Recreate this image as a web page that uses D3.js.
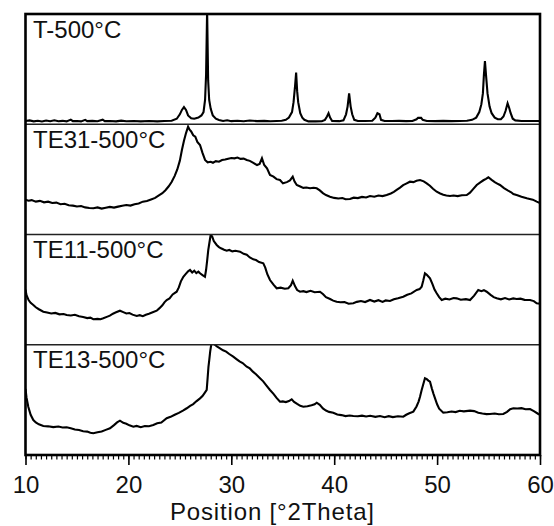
<!DOCTYPE html>
<html>
<head>
<meta charset="utf-8">
<script src="https://cdn.jsdelivr.net/npm/d3@7/dist/d3.min.js"></script>
<style>
  html, body { margin: 0; padding: 0; background: #fff; }
  svg { display: block; }
  text { font-family: "Liberation Sans", Arial, sans-serif; fill: #111; }
</style>
</head>
<body>
<div id="chart"></div>
<script>
// Stacked XRD patterns, relative intensity (0 = panel floor, 100 = panel top) vs 2θ
const sampleNames = ["T-500°C", "TE31-500°C", "TE11-500°C", "TE13-500°C"];

const patternT = [
  [10.0,3],[10.4,3.5],[10.8,2.6],[11.2,3.2],[11.6,2.5],[12.0,3.4],[12.4,2.8],[12.8,3.6],[13.2,2.7],[13.6,3.1],
  [14.0,2.6],[14.4,4.2],[14.6,2.8],[15.0,3],[15.4,2.6],[15.8,4],[16.0,2.8],[16.5,3.1],[17.0,2.7],[17.5,4.1],
  [17.7,2.8],[18.2,3],[18.8,2.6],[19.3,3.3],[19.8,2.7],[20.5,3],[21.2,2.6],[22,2.9],[22.8,2.6],[23.5,3],
  [24.2,3.2],[24.7,5],[25.0,9],[25.2,13],[25.4,15.6],[25.6,13],[25.8,8],[26.1,5.5],[26.4,5],[26.8,6],
  [27.1,8],[27.3,11],[27.45,22],[27.55,45],[27.65,104],[27.75,40],[27.85,22],[28.0,14],[28.2,8],[28.5,5],
  [28.8,3.8],[29.2,3],[29.6,3.6],[30,2.8],[30.6,3.2],[31.2,2.7],[31.8,3.4],[32.5,2.8],[33.2,3.1],[33.8,2.7],
  [34.4,3],[34.9,3.2],[35.3,4],[35.6,6],[35.9,11],[36.05,20],[36.2,35],[36.3,46.8],[36.4,30],[36.5,20],
  [36.7,10],[36.9,6],[37.1,4],[37.5,2.6],[38.2,2.6],[38.8,2.7],[39.1,4],[39.3,7],[39.45,10],[39.6,6],
  [39.8,3],[40.5,2.8],[40.9,3.5],[41.15,9],[41.3,16],[41.45,28],[41.6,16],[41.75,9],[41.95,4],[42.3,3],
  [43,2.9],[43.7,3.2],[44.0,6],[44.2,10],[44.4,9],[44.55,4],[44.9,3],[45.6,2.9],[46.3,3.1],[47,2.8],
  [47.6,3],[48.0,4.5],[48.15,5.8],[48.45,5.8],[48.6,4],[49,3],[49.8,2.8],[50.6,3.1],[51.4,2.8],[52.2,3],
  [52.9,3.2],[53.4,4],[53.8,6],[54.1,11],[54.3,18],[54.45,28],[54.55,45],[54.65,57.4],[54.75,45],[54.9,28],
  [55.1,16],[55.3,10],[55.6,6],[55.9,4.5],[56.2,4.5],[56.45,7],[56.65,12],[56.85,19],[57.0,15],[57.15,10],
  [57.35,5],[57.6,3.5],[58.2,3],[58.8,3],[59.4,2.9],[60,3]
];

const patternTE31 = [
  [10.0,31.5],[10.3,30.6],[10.6,31.2],[11.0,29.8],[11.4,30.5],[11.8,29.2],[12.2,29.8],[12.6,28.6],[13.0,28.9],[13.4,27.5],
  [13.8,27.9],[14.2,26.6],[14.6,26.2],[15.0,25.4],[15.4,25.8],[15.8,24.6],[16.2,24.1],[16.6,23.8],[17.0,24.6],[17.4,23.5],
  [17.8,24.3],[18.2,25.0],[18.6,24.4],[19.0,25.3],[19.4,26.1],[19.8,26.8],[20.2,26.2],[20.6,27.5],[21.0,28.2],[21.4,29.8],
  [21.8,30.4],[22.2,31.8],[22.6,33.2],[23.0,35.8],[23.3,37.5],[23.6,40.2],[23.9,43.5],[24.2,47.6],[24.5,53.2],[24.75,59],
  [25.0,67],[25.2,76.6],[25.4,85],[25.6,92],[25.8,97.8],[25.95,95],[26.1,93.5],[26.3,90],[26.5,88.7],[26.7,84],
  [26.96,81.2],[27.2,74],[27.45,67.6],[27.7,65.5],[28.0,66],[28.22,65.1],[28.5,66.5],[28.8,66],[29.1,67.5],[29.4,68],
  [29.7,68.8],[30.0,69.4],[30.3,69.1],[30.6,69.8],[30.9,68.6],[31.2,68.8],[31.5,67.6],[31.8,66.8],[32.1,65.2],[32.5,63],
  [32.75,64],[32.98,69.1],[33.2,63],[33.47,60],[33.76,54],[34.1,52.5],[34.4,50.2],[34.73,49.4],[35.02,46.4],[35.4,47.5],
  [35.7,49],[35.97,52.4],[36.15,48],[36.36,44.9],[36.7,43.5],[37.0,42.3],[37.3,42.6],[37.65,41.9],[38.0,42.4],[38.3,41.9],
  [38.6,40],[38.9,37.5],[39.2,35.8],[39.59,34.3],[40.0,33.2],[40.4,32.6],[40.8,33.1],[41.1,32],[41.53,32.2],[41.9,33.4],
  [42.3,33],[42.7,34.1],[43.1,33.6],[43.48,34.9],[43.9,34.2],[44.3,35.4],[44.7,34.8],[45.1,35.8],[45.5,37.2],[45.8,38.6],
  [46.07,40.4],[46.4,42.5],[46.7,44.8],[47.0,46.2],[47.36,47.9],[47.7,47.5],[48.0,48.8],[48.34,49.4],[48.7,48.2],[48.99,46.4],
  [49.3,44.2],[49.6,41.5],[49.96,38.8],[50.3,37.2],[50.6,36.1],[50.9,35.4],[51.25,34.9],[51.6,35.3],[52.0,34.8],[52.4,35.6],
  [52.88,35.8],[53.2,38],[53.5,41.2],[53.85,44.9],[54.2,47.3],[54.5,49.2],[54.75,50.5],[54.98,51.9],[55.3,49.5],[55.6,47.5],
  [55.85,46.2],[56.11,44.9],[56.5,42],[56.9,39.8],[57.2,38.3],[57.41,36.7],[57.8,35.6],[58.2,34.2],[58.71,32.8],[59.0,32.2],
  [59.3,31.6],[59.68,29.8],[60.0,28.5]
];

const patternTE11 = [
  [10.0,50],[10.1,45],[10.3,40.5],[10.5,38],[10.76,36.1],[11.0,34],[11.3,32.2],[11.73,30],[12.1,29.2],[12.5,28.3],
  [12.9,28.9],[13.3,27.6],[13.7,27.9],[14.0,27],[14.4,26.5],[14.8,27.2],[15.2,25.8],[15.6,25.1],[16.0,24.2],[16.3,24.6],
  [16.59,23.1],[17.0,23.5],[17.3,23.2],[17.56,24],[17.9,25.3],[18.2,26.4],[18.5,28.2],[18.8,29.4],[19.18,30.9],[19.5,29.6],
  [19.8,28.4],[20.1,28.8],[20.4,27.3],[20.81,26.1],[21.1,26.8],[21.4,25.9],[21.7,27.2],[22.0,28.1],[22.3,29.2],[22.75,30.9],
  [23.0,33],[23.3,35.8],[23.5,38.5],[23.72,40.6],[24.0,42],[24.3,45.6],[24.69,48.1],[24.9,52],[25.1,57.5],[25.34,61.7],
  [25.6,64.5],[25.8,66.6],[25.99,67.8],[26.2,65.6],[26.4,67.2],[26.6,65],[26.8,66.3],[26.96,64.8],[27.2,63.2],[27.44,61.7],
  [27.55,68],[27.65,76],[27.76,85.9],[27.88,93],[28.0,100],[28.15,98],[28.3,94],[28.58,90.5],[28.8,88.6],[29.0,87.5],
  [29.3,86.2],[29.55,85.3],[29.8,86],[30.1,84.7],[30.4,85.2],[30.85,84.4],[31.2,82.5],[31.5,81.6],[31.8,79.2],[32.14,77.5],
  [32.4,76.8],[32.7,75],[33.11,73.9],[33.3,70],[33.5,64],[33.76,58.7],[34.1,54.5],[34.41,51.2],[34.8,51.8],[35.2,50.8],
  [35.54,51.2],[35.8,54],[35.97,58.1],[36.2,53],[36.4,49.6],[36.68,48.1],[37.0,48.6],[37.3,47.8],[37.7,48.9],[38.1,47.6],
  [38.62,48.1],[38.9,46],[39.2,43.2],[39.6,41.5],[39.9,40],[40.24,39],[40.6,38.5],[41.0,38.8],[41.4,37.2],[41.86,37.6],
  [42.2,38.9],[42.6,39.6],[43.0,38.7],[43.48,40.6],[43.9,39.2],[44.3,40.4],[44.7,38.9],[45.0,40.2],[45.42,39.7],[45.8,41.2],
  [46.2,42.2],[46.71,43.6],[47.1,45.3],[47.5,46.6],[48.02,49.7],[48.3,50.5],[48.5,52.7],[48.65,58],[48.82,64.8],[49.0,63.5],
  [49.31,60.3],[49.55,55],[49.75,50],[49.96,46.7],[50.2,43.2],[50.45,40.6],[50.8,41.8],[51.2,41.1],[51.6,42.4],[51.9,42.1],
  [52.3,40.8],[52.8,41.4],[53.2,40.6],[53.6,44.5],[54.0,49.7],[54.3,48.6],[54.55,49.5],[54.82,48.1],[55.2,45.3],[55.5,43.2],
  [55.79,42.1],[56.2,41.2],[56.6,42.3],[57.0,41.1],[57.4,42],[57.73,41.5],[58.1,41.8],[58.5,40.7],[59.03,40.6],[59.4,39.6],
  [59.68,37.6],[60.0,37.2]
];

const patternTE13 = [
  [10.0,60],[10.1,52],[10.27,43.8],[10.5,36.5],[10.76,31.7],[11.0,29.5],[11.3,27.8],[11.73,26.3],[12.2,26],[12.7,25.3],
  [13.2,25.8],[13.6,24.9],[14.0,25.1],[14.4,24.2],[14.8,23.1],[15.2,22.6],[15.6,21.5],[16.0,21.2],[16.3,20.1],[16.59,19.7],
  [17.0,20.6],[17.4,21.3],[17.8,22.8],[18.21,24.2],[18.6,27.1],[18.9,29.6],[19.18,31.1],[19.5,29.2],[19.8,28.3],[20.1,26.9],
  [20.48,25.7],[20.8,26.4],[21.2,25.2],[21.6,26.3],[22.0,26.1],[22.42,27.2],[22.8,28.8],[23.2,29.5],[23.72,33.3],[24.1,34.6],
  [24.5,36.5],[24.9,38.2],[25.3,40.3],[25.67,42.4],[26.0,44.6],[26.3,46.2],[26.6,48.7],[26.96,51.4],[27.2,53.5],[27.4,56.2],
  [27.61,59],[27.7,70],[27.78,80],[27.86,86.2],[27.95,94],[28.05,100],[28.2,102],[28.4,100],[28.6,98.5],[28.9,96.8],
  [29.2,95],[29.5,93.8],[29.8,91.6],[30.19,89.2],[30.5,87],[30.8,84.9],[31.1,83.4],[31.5,80.1],[31.8,78.5],[32.1,75.6],
  [32.4,73.2],[32.79,69.6],[33.1,66.8],[33.4,63.2],[33.76,59],[34.1,55.5],[34.4,51.8],[34.73,48.3],[35.0,48.6],[35.3,48],
  [35.6,48.9],[35.87,50.5],[36.1,48.2],[36.4,46.3],[36.7,44.6],[37.0,43.8],[37.4,44.2],[37.8,45.1],[38.1,46],[38.3,47.4],
  [38.6,45.5],[38.9,42.2],[39.2,40.3],[39.5,39.1],[39.91,38.4],[40.3,36.8],[40.7,36.2],[41.1,35.3],[41.5,35.8],[41.86,35.4],
  [42.3,35.1],[42.7,35.7],[43.1,34.9],[43.5,35.6],[44.0,34.6],[44.45,35.4],[44.9,34.3],[45.3,35.2],[45.7,34.4],[46.2,35.1],
  [46.71,34.7],[47.0,36.5],[47.3,37.8],[47.69,39.3],[48.0,44],[48.2,48.5],[48.34,52.9],[48.5,59],[48.65,64],[48.82,69.6],
  [49.0,68.8],[49.15,67.5],[49.31,66.5],[49.5,60],[49.65,55.5],[49.8,51.4],[50.0,46],[50.2,42],[50.6,38.4],[51.0,38.8],
  [51.4,39.5],[51.8,38.9],[52.2,40.1],[52.6,39.6],[53.2,40.2],[53.6,39.8],[54.0,38.3],[54.4,37.6],[54.8,37.1],[55.14,37.2],
  [55.6,37.6],[56.0,37],[56.43,37.2],[56.8,39.1],[57.1,41.6],[57.41,42.4],[57.8,42.2],[58.2,42.5],[58.6,41.5],[59.03,41.7],
  [59.4,39.8],[59.84,37.2],[60.0,36.5]
];

const patterns = [patternT, patternTE31, patternTE11, patternTE13];
const majorTicks = [10, 20, 30, 40, 50, 60];
const xTitle = "Position [°2Theta]";

const W = 554, H = 526;
const plot = { left: 25.5, right: 540, top: 14, bottom: 455 };
const panelH = (plot.bottom - plot.top) / patterns.length;

const svg = d3.select("#chart").append("svg")
  .attr("width", W).attr("height", H)
  .attr("viewBox", `0 0 ${W} ${H}`);

svg.append("rect").attr("width", W).attr("height", H).attr("fill", "#fff");

const x = d3.scaleLinear().domain([10, 60]).range([plot.left, plot.right]);

const defs = svg.append("defs");

patterns.forEach((data, i) => {
  const top = plot.top + i * panelH;
  const bottom = top + panelH;
  const y = d3.scaleLinear().domain([0, 100]).range([bottom, top]);

  defs.append("clipPath").attr("id", `panel-clip-${i}`)
    .append("rect")
    .attr("x", plot.left).attr("y", top)
    .attr("width", plot.right - plot.left).attr("height", panelH);

  const line = d3.line().x(d => x(d[0])).y(d => y(d[1]));

  svg.append("path")
    .datum(data)
    .attr("clip-path", `url(#panel-clip-${i})`)
    .attr("fill", "none")
    .attr("stroke", "#000")
    .attr("stroke-width", 2.1)
    .attr("stroke-linejoin", "miter")
    .attr("d", line);

  if (i > 0) {
    svg.append("line")
      .attr("x1", plot.left).attr("x2", plot.right)
      .attr("y1", top).attr("y2", top)
      .attr("stroke", "#222").attr("stroke-width", 1.3);
  }

  svg.append("text")
    .attr("x", plot.left + 7.5)
    .attr("y", top + 23.5)
    .attr("font-size", 24)
    .text(sampleNames[i]);
});

// Outer frame
svg.append("rect")
  .attr("x", plot.left).attr("y", plot.top)
  .attr("width", plot.right - plot.left)
  .attr("height", plot.bottom - plot.top)
  .attr("fill", "none")
  .attr("stroke", "#000")
  .attr("stroke-width", 2.6);

// Minor ticks every half degree
svg.append("g")
  .attr("transform", `translate(0,${plot.bottom})`)
  .call(d3.axisBottom(x).tickValues(d3.range(10, 60.01, 0.5)).tickSize(4.5).tickFormat(""))
  .call(g => g.select(".domain").remove())
  .call(g => g.selectAll("line").attr("stroke", "#000").attr("stroke-width", 1.2));

// Major ticks and labels
svg.append("g")
  .attr("transform", `translate(0,${plot.bottom})`)
  .call(d3.axisBottom(x).tickValues(majorTicks).tickSize(10).tickFormat(d3.format("d")))
  .call(g => g.select(".domain").remove())
  .call(g => g.selectAll("line").attr("stroke", "#000").attr("stroke-width", 1.6))
  .call(g => g.selectAll("text")
    .attr("y", 38).attr("dy", null)
    .attr("font-size", 24)
    .attr("font-family", "'Liberation Sans', Arial, sans-serif")
    .attr("fill", "#111"));

svg.append("text")
  .attr("x", 272)
  .attr("y", 520)
  .attr("text-anchor", "middle")
  .attr("font-size", 24)
  .attr("textLength", 204)
  .attr("lengthAdjust", "spacing")
  .text(xTitle);
</script>
</body>
</html>
